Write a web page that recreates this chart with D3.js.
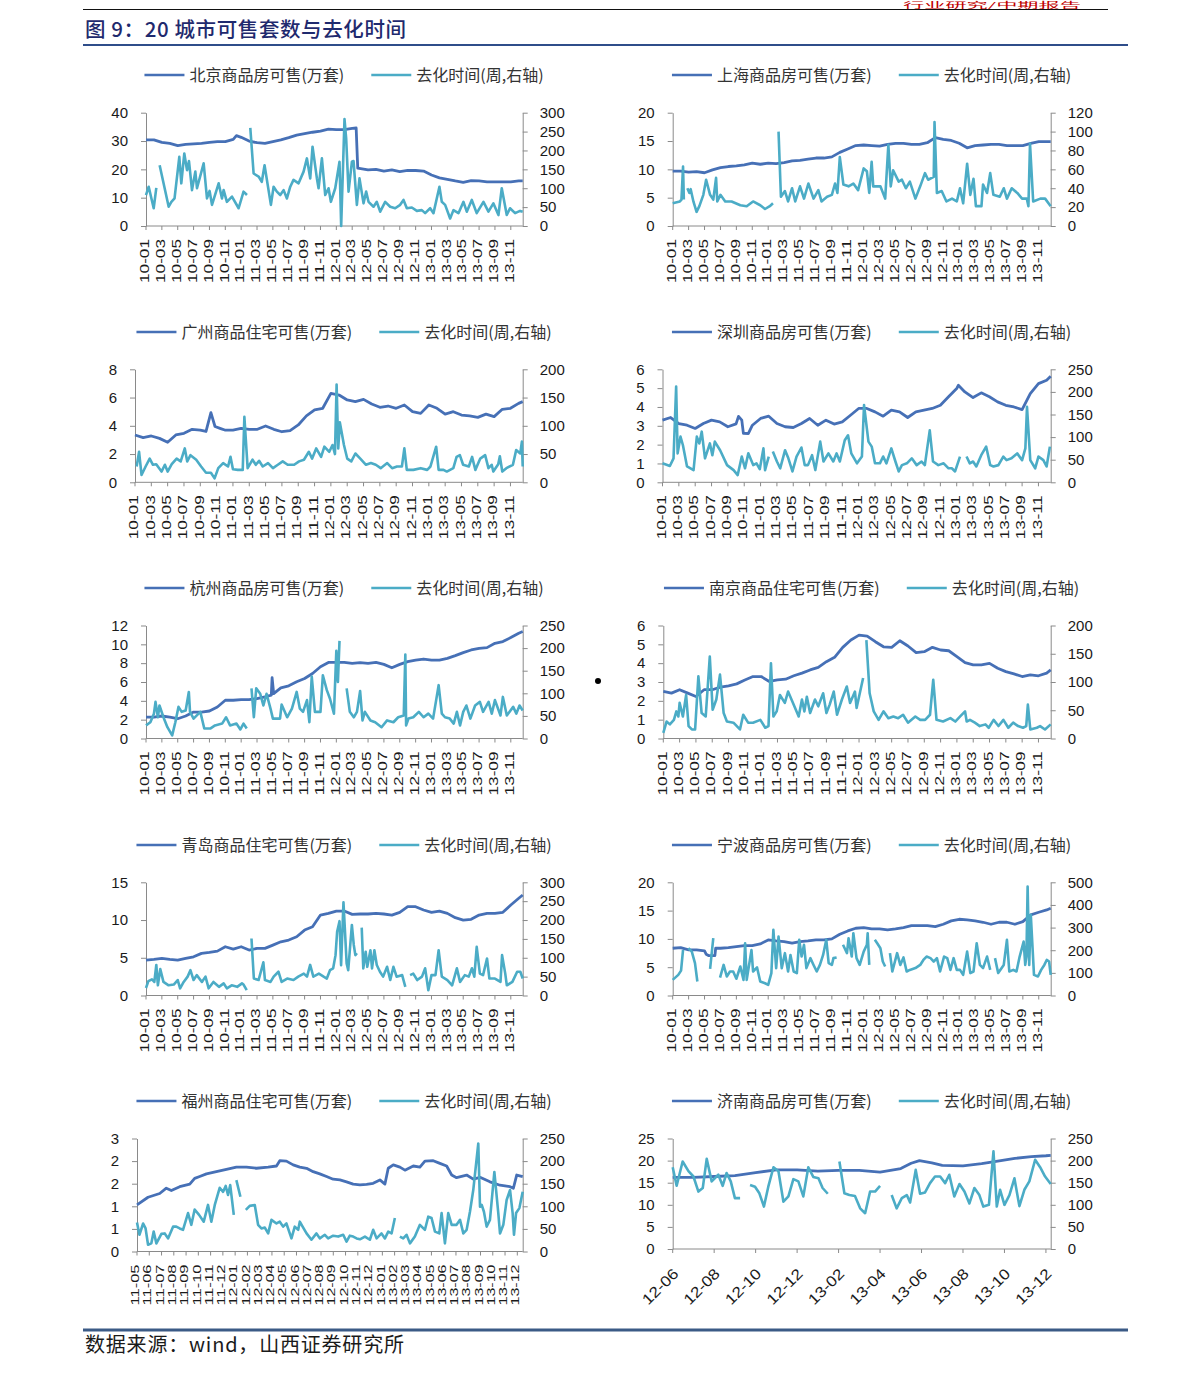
<!DOCTYPE html>
<html><head><meta charset="utf-8">
<script src="https://cdn.jsdelivr.net/npm/d3@7/dist/d3.min.js"></script>
<style>
body{margin:0;background:#fff;}
svg text{font-family:"Liberation Sans","Open Sans",sans-serif;}
.cjk{font-family:"Noto Sans CJK SC","Noto Sans",sans-serif;}
</style></head>
<body>
<script>
// ---------------- DATA ----------------
// x = months since first month of the axis; value pairs; null = gap in series
const xLabelsMain = ["10-01","10-03","10-05","10-07","10-09","10-11","11-01","11-03","11-05","11-07","11-09","11-11","12-01","12-03","12-05","12-07","12-09","12-11","13-01","13-03","13-05","13-07","13-09","13-11"];
const xLabelsFuzhou = ["11-05","11-06","11-07","11-08","11-09","11-10","11-11","11-12","12-01","12-02","12-03","12-04","12-05","12-06","12-07","12-08","12-09","12-10","12-11","12-12","13-01","13-02","13-03","13-04","13-05","13-06","13-07","13-08","13-09","13-10","13-11","13-12"];
const xLabelsJinan = ["12-06","12-08","12-10","12-12","13-02","13-04","13-06","13-08","13-10","13-12"];

const stockNames = ["北京商品房可售(万套)","上海商品房可售(万套)","广州商品住宅可售(万套)","深圳商品房可售(万套)","杭州商品房可售(万套)","南京商品住宅可售(万套)","青岛商品住宅可售(万套)","宁波商品房可售(万套)","福州商品住宅可售(万套)","济南商品房可售(万套)"];
const turnName = "去化时间(周,右轴)";

const bjLeftTicks=[0,10,20,30,40], bjRightTicks=[0,50,100,150,200,250,300];
const shLeftTicks=[0,5,10,15,20], shRightTicks=[0,20,40,60,80,100,120];
const gzLeftTicks=[0,2,4,6,8], gzRightTicks=[0,50,100,150,200];
const szLeftTicks=[0,1,2,3,4,5,6], szRightTicks=[0,50,100,150,200,250];
const hzLeftTicks=[0,2,4,6,8,10,12], hzRightTicks=[0,50,100,150,200,250];
const njLeftTicks=[0,1,2,3,4,5,6], njRightTicks=[0,50,100,150,200];
const qdLeftTicks=[0,5,10,15], qdRightTicks=[0,50,100,150,200,250,300];
const nbLeftTicks=[0,5,10,15,20], nbRightTicks=[0,100,200,300,400,500];
const fzLeftTicks=[0,0.6,1.2,1.8,2.4,3], fzRightTicks=[0,50,100,150,200,250];
const jnLeftTicks=[0,5,10,15,20,25], jnRightTicks=[0,50,100,150,200,250];

const bjStock=[[0,30.4],[1,30.4],[2,29.5],[3,29.2],[4,28.4],[5,28.8],[6,29],[7,29.2],[8,29.5],[9,29.8],[10,29.8],[11,30.6],[11.4,31.9],[12,31.3],[13,30],[14,29.4],[15,29.2],[16,29.8],[17,30.4],[18,31.2],[19,32.1],[20,32.6],[21,33.1],[22,33.5],[23,34.2],[24,34],[25,34],[26,34.5],[26.5,34.6],[26.7,20.4],[28,19.8],[29,20],[30,19.4],[31,19.8],[32,19.2],[33,19.6],[34,19.6],[35,19.4],[36,18],[37,17],[38,16.5],[39,15.9],[40,15.4],[41,16],[42,15.9],[43,15.6],[44,15.6],[45,15.6],[46,15.6],[47,15.9],[47.5,15.9]];
const bjTurn=[[0,82],[0.34,104],[0.97,47],[1.3,101],null,[1.72,161],[2.86,51],[3.2,64],[3.6,73],[4.2,183],[4.45,113],[4.83,192],[5.17,148],[5.42,172],[5.8,95],[6.22,144],[6.43,100],[7.27,166],[7.69,73],[8.02,93],[8.32,56],[9.16,113],[9.58,73],[9.79,95],[10.2,64],[10.84,78],[11.68,47],[12.3,91],[12.73,82],null,[13.15,260],[13.57,139],[14.2,131],[14.6,117],[14.95,161],[15.75,56],[16.09,104],[16.5,91],[16.93,82],[17.35,95],[17.77,73],[18.19,104],[18.6,122],[19.24,113],[19.87,144],[20.29,179],[20.71,126],[21,210],[21.55,126],[21.76,100],[22.18,179],[22.6,82],[23.02,100],[23.31,64],[23.86,100],[24.4,170],[24.61,0],[25.03,283],[25.24,232],[25.54,91],[25.96,170],[26.17,172],[26.59,56],[26.92,126],[27.43,60],[27.76,91],[28.06,64],[28.69,51],[29.1,64],[29.53,38],[30.16,64],[30.79,51],[31.42,47],[32.05,56],[32.47,69],[32.89,47],[33.52,49],[34.15,40],[34.78,42],[35.2,34],[35.83,47],[36.25,34],[37,104],[37.3,64],[37.72,56],[38.35,20],[38.77,42],[39.4,34],[40.03,64],[40.45,38],[41.08,69],[41.7,34],[42.55,64],[43.18,38],[43.8,60],[44.44,29],[44.86,100],[45.49,29],[45.9,47],[46.54,34],[47.17,40],[47.5,38]];

const shStock=[[0,9.7],[1,9.7],[2,9.5],[3,9.6],[4,9.4],[5,9.9],[6,10.3],[7,10.5],[8,10.6],[9,10.8],[10,11.1],[11,10.9],[12,11.1],[13,11],[14,11.2],[15,11.5],[16,11.6],[17,11.8],[18,12],[19,12],[20,12.2],[21,13],[22,13.6],[23,14.2],[24,14.3],[25,14.2],[26,14.1],[27,14.4],[28,14.6],[29,14.6],[30,14.4],[31,14.4],[32,14.7],[33,15.6],[34,15.3],[35,15.1],[36,14.6],[37,13.8],[38,14.2],[39,14.3],[40,14.4],[41,14.4],[42,14.2],[43,14.2],[44,14.2],[45,14.6],[46,14.9],[47,14.9],[47.5,14.9]];
const shTurn=[[0,24],[0.9,26],[1.1,28],[1.3,63],[1.4,28],null,[1.84,40],[2.1,35],[2.26,39],[2.6,26],[3,15],[3.35,21],[3.85,33],[4.2,49],[4.7,33],[5.1,28],[5.45,51],[5.6,26],[6,33],[6.6,26],[7.4,26],[8.5,22],[9.3,21],[10.1,26],[11,22],[11.6,18],[12.2,21],[12.6,24],null,[13.3,100],[13.6,31],[14.1,37],[14.5,26],[15,40],[15.4,26],[16,42],[16.5,29],[17.05,45],[17.7,29],[18.3,38],[18.7,26],[19.4,31],[20,33],[20.4,45],[20.7,35],[21,73],[21.45,44],[22.1,42],[22.7,45],[23.3,38],[24,61],[24.4,58],[24.7,35],[25,68],[25.2,42],[26.1,42],[26.7,29],[27.1,86],[27.4,42],[27.7,59],[28.4,47],[28.8,49],[29.3,40],[29.8,47],[30.5,29],[31.1,42],[31.7,56],[32.1,49],[32.8,52],[32.9,110],[33.2,35],[33.8,37],[34.4,26],[35.1,29],[35.7,26],[36.1,40],[36.5,24],[37,66],[37.4,33],[37.8,50],[38.1,21],[38.8,21],[39,44],[39.5,35],[39.9,56],[40.3,33],[41.1,31],[41.6,40],[42,29],[42.6,40],[43.3,35],[43.9,29],[44.5,29],[44.7,21],[44.9,87],[45.3,26],[46.2,29],[46.8,29],[47.5,21]];

const gzStock=[[0,3.35],[1,3.16],[2,3.28],[3,3.11],[4,2.83],[5,3.35],[6,3.47],[7,3.75],[8,3.7],[8.7,3.6],[9.3,4.93],[9.8,3.95],[10.5,3.8],[11,3.7],[12,3.7],[13,3.82],[14,3.75],[15,3.75],[16,3.99],[17,3.75],[18,3.58],[19,3.66],[20,4.06],[21,4.7],[22,5.12],[23,5.24],[24,6.3],[25,6.18],[26,5.83],[27,5.71],[28,5.87],[29,5.54],[30,5.31],[31,5.4],[32,5.24],[33,5.47],[34,5],[35,4.88],[36,5.47],[37,5.24],[38,4.83],[39,5],[40,4.76],[41,4.7],[42,4.6],[43,4.83],[44,4.65],[45,5.17],[46,5.24],[47,5.59],[47.5,5.71]];
const gzTurn=[[0.2,28],[0.5,54],[0.8,13],[1.3,28],[1.8,42],[2.2,31],[2.6,32],[3.25,19],[3.66,31],[4,19],[4.5,32],[5.1,42],[5.6,37],[6.1,60],[6.4,37],[6.8,48],[7.5,40],[8.1,28],[8.7,17],[9.3,17],[9.75,7],[10.2,25],[10.8,34],[11.4,28],[11.7,45],[12,23],[12.6,22],[13.2,22],[13.4,116],[13.8,25],[14.4,40],[14.8,31],[15.2,38],[15.65,28],[16.3,34],[16.9,25],[17.5,31],[18.1,37],[18.7,31],[19.5,31],[20.1,37],[20.7,40],[21.3,54],[21.7,42],[22.2,60],[22.8,45],[23.2,63],[23.8,54],[24.2,66],[24.5,50],[24.7,173],[24.9,60],[25.1,106],[25.6,66],[26,42],[26.5,37],[27,51],[27.6,42],[28.3,31],[28.9,34],[29.5,31],[30.1,25],[30.9,34],[31.5,25],[32.1,28],[32.7,28],[33,60],[33.3,22],[34.1,22],[35,25],[35.8,22],[36.2,28],[36.9,63],[37.2,22],[37.8,22],[38.2,19],[39,25],[39.4,45],[39.8,48],[40.2,31],[40.9,28],[41.3,45],[41.7,22],[42.3,42],[42.9,48],[43.3,25],[43.7,31],[43.9,19],[44.5,32],[44.7,46],[45,19],[45.5,25],[46.3,31],[46.7,57],[47.2,51],[47.4,72],[47.5,28]];

const szStock=[[0,3.3],[1,3.44],[2,3.12],[3,3.03],[4,2.86],[5,3.12],[6,3.3],[7,3.21],[8,2.95],[9,3.1],[9.3,3.5],[9.7,3.3],[9.9,2.6],[10.5,2.59],[11,3.03],[12,3.39],[13,3.51],[14,3.12],[15,2.95],[16,2.91],[17,3.12],[18,3.39],[19,3.03],[20,3.3],[21,3.09],[22,3.21],[23,3.56],[24,3.92],[25,3.92],[26,3.74],[27,3.51],[28,3.83],[29,3.74],[30,3.44],[31,3.74],[32,3.83],[33,3.92],[34,4.09],[35,4.54],[36,4.98],[36.2,5.15],[37,4.8],[38,4.5],[39,4.75],[40,4.54],[41,4.27],[42,4.09],[43,4],[44,3.86],[45,4.71],[46,5.24],[47,5.42],[47.5,5.63]];
const szTurn=[[0,42],[0.9,36],[1.35,53],[1.67,212],[1.85,64],[2.2,101],[2.5,82],[3,35],[3.8,27],[4.2,101],[4.5,86],[4.8,112],[5.2,53],[5.8,86],[6.1,60],[6.4,90],[7.05,71],[7.9,38],[8.7,27],[9.2,16],[9.7,57],[10.1,31],[10.5,64],[11.1,38],[11.5,42],[11.9,29],[12.35,75],[12.55,27],[13,57],null,[13.5,68],[14,46],[14.4,31],[15,71],[15.4,53],[15.9,24],[16.4,57],[17,77],[17.4,38],[17.8,38],[18.3,60],[18.7,27],[19.3,90],[19.7,46],[20.3,64],[20.9,46],[21.3,64],[21.7,46],[22.3,93],[22.7,104],[23.1,64],[23.8,42],[24.4,57],[24.66,171],[25.2,90],[25.6,79],[26,42],[26.6,42],[27,57],[27.4,42],[28,75],[28.5,46],[28.9,24],[29.3,38],[29.9,42],[30.5,53],[31.1,38],[31.7,46],[32.1,38],[32.7,115],[33.1,46],[33.75,38],[34.4,42],[35,31],[35.4,31],[35.8,24],[36.4,57],null,[37.2,57],[37.6,42],[38,46],[38.4,35],[39,60],[39.6,79],[40.1,38],[40.5,35],[41.1,38],[41.7,57],[42.1,49],[42.7,53],[43.4,64],[44,49],[44.4,75],[44.6,167],[45,49],[45.6,31],[46,57],[46.6,49],[47,35],[47.4,79]];

const hzStock=[[0,2.28],[1,2.28],[2,2.39],[3,2.28],[4,2.1],[5,2.39],[6,2.81],[7,2.81],[8,2.92],[9,3.35],[10,4.06],[11,4.06],[12,4.13],[13,4.13],[14,4.24],[15,4.42],[15.8,4.6],[15.9,6.45],[16.1,4.77],[17,5.38],[18,5.59],[19,6.02],[20,6.37],[21,6.9],[22,7.62],[23,8.08],[24,8.08],[25,8.08],[26,7.98],[27,8.05],[28,7.98],[29,8.08],[30,7.87],[31,7.51],[32,7.87],[33,8.16],[34,8.33],[35,8.44],[36,8.33],[37,8.33],[38,8.51],[39,8.8],[40,9.12],[41,9.4],[42,9.58],[43,9.65],[44,10.11],[45,10.29],[46,10.72],[47,11.18],[47.5,11.36]];
const hzTurn=[[0,29],[0.55,36],[1,55],[1.2,81],[1.5,47],[1.7,73],[2.2,47],[2.7,25],[3.3,7],[3.7,36],[4.1,70],[4.5,59],[5,62],[5.4,103],[5.55,59],[6,44],[6.85,59],[7.35,22],[8.1,22],[8.7,29],[9.6,33],[10.1,47],[10.6,29],[11.4,33],[11.9,20],[12.3,33],[12.7,22],null,[13.3,111],[13.6,47],[13.9,111],[14.4,99],[14.8,73],[15.2,99],[15.7,66],[16,44],[16.9,44],[17.1,75],[17.8,47],[18.4,66],[19,103],[19.4,66],[19.8,59],[20.3,85],[20.6,36],[20.9,137],[21.3,59],[22,59],[22.3,140],[22.8,107],[23.2,88],[23.7,55],[24,194],[24.2,125],[24.4,216],null,[25.3,111],[25.7,59],[26.2,47],[26.6,59],[27,105],[27.3,40],[27.6,59],[28.3,40],[28.9,36],[29.7,25],[30.4,40],[31.2,36],[31.8,47],[32.5,51],[32.7,186],[32.8,29],[33.1,44],[33.7,47],[34.4,59],[35,47],[35.6,55],[36.2,44],[36.9,118],[37.3,55],[37.7,47],[38.3,44],[38.8,33],[39.2,59],[39.6,29],[40,59],[40.4,73],[40.9,44],[41.5,73],[42.1,81],[42.5,59],[43.2,81],[43.6,55],[44,85],[44.7,51],[45,92],[45.5,51],[46.3,70],[46.7,55],[47.1,73],[47.5,62]];

const njStock=[[0,2.5],[1,2.41],[2,2.59],[3,2.41],[4,2.23],[5,2.59],[6,2.59],[7,2.73],[8,2.8],[9,2.9],[10,3.11],[11,3.29],[12,3.29],[13,3.03],[14,3.11],[15,3.15],[16,3.33],[17,3.47],[18,3.64],[19,3.78],[20,4.08],[21,4.31],[22,4.84],[23,5.23],[24,5.49],[25,5.44],[26,5.14],[27,4.87],[28,4.84],[29,5.19],[30,4.91],[31,4.56],[32,4.61],[33,4.84],[34,4.7],[35,4.66],[36,4.35],[37,4.03],[38,3.91],[39,3.91],[40,3.99],[41,3.73],[42,3.55],[43,3.43],[44,3.29],[45,3.38],[46,3.33],[47,3.47],[47.5,3.64]];
const njTurn=[[0,10],[0.4,30],[0.8,25],[1.3,33],[1.6,48],[1.85,39],[2,63],[2.4,39],[2.8,77],[3.1,22],[3.5,16],[3.9,16],[4.3,110],[4.7,45],[5.2,39],[5.7,145],[6.05,51],[6.5,69],[6.95,113],[7.4,45],[7.8,30],[8.6,28],[9.4,16],[9.8,42],[10.4,28],[11,28],[11.9,33],[12.5,19],[12.9,22],[13.2,133],[13.5,39],[13.9,48],[14.3,77],[14.9,63],[15.3,83],[15.9,63],[16.6,39],[17,69],[17.3,48],[17.6,74],[18,45],[18.6,69],[19,57],[19.6,80],[20,45],[20.4,60],[20.9,83],[21.3,42],[21.9,69],[22.5,92],[22.9,63],[23.5,83],[23.7,54],[24.5,107],null,[24.9,174],[25.3,80],[25.8,48],[26.4,33],[27,48],[27.6,36],[28.2,39],[28.8,36],[29.4,42],[30,28],[30.9,39],[31.5,33],[32.1,33],[32.7,42],[33.1,104],[33.5,33],[34.3,30],[35.2,36],[35.8,30],[36.4,39],[37,48],[37.2,30],[37.6,33],[38.2,28],[38.8,22],[39.5,25],[39.9,19],[40.5,33],[41.1,22],[41.7,33],[42.3,19],[42.9,28],[43.5,22],[44.1,19],[44.5,22],[44.7,60],[45,16],[45.8,19],[46.2,22],[46.8,16],[47.5,25]];

const qdStock=[[0,4.69],[1,4.78],[2,4.91],[3,4.78],[4,4.69],[5,4.91],[6,5.13],[7,5.58],[8,5.71],[9,5.88],[10,6.46],[11,6.15],[12,6.46],[13,6.02],[14,6.24],[15,6.24],[16,6.68],[17,7.12],[18,7.35],[19,7.79],[20,8.67],[21,9.12],[22,10.66],[23,10.88],[24,11.19],[25,11.19],[26,10.75],[27,10.8],[28,10.8],[29,10.88],[30,10.8],[31,10.66],[32,11.02],[33,11.77],[34,11.77],[35,11.33],[36,11.02],[37,11.19],[38,10.88],[39,10.31],[40,10],[41,10.09],[42,10.66],[43,10.88],[44,10.88],[45,11.02],[46,11.99],[47,12.88],[47.5,13.32]];
const qdTurn=[[0,20],[0.3,38],[0.75,43],[1.05,36],[1.3,81],[1.5,27],[1.8,70],[2.2,36],[2.85,27],[3.5,29],[4,41],[4.3,19],[4.75,36],[5.25,50],[5.6,67],[6,41],[6.4,54],[7.05,36],[7.5,50],[7.9,19],[8.5,36],[9.2,23],[9.8,32],[10.2,19],[10.8,27],[11.5,23],[12.1,32],[12.3,29],[12.7,14],null,[13.3,151],[13.6,45],[14.2,41],[14.8,88],[15,41],[15.7,36],[16.1,50],[16.7,63],[17.1,36],[17.8,45],[18.6,41],[19.2,50],[19.9,58],[20.3,50],[20.7,81],[21.1,50],[21.8,58],[22.4,50],[22.8,45],[23.2,67],[23.6,72],[23.9,107],[24.1,169],[24.4,197],[24.6,80],[24.9,247],[25.3,85],[25.5,67],[25.96,187],[26.2,134],[26.4,107],[26.6,112],null,[27.2,180],[27.4,72],[27.7,116],[27.9,76],[28.3,120],[28.5,72],[28.8,120],[29.1,81],[29.5,63],[29.9,50],[30.4,76],[30.8,41],[31.2,76],[31.6,50],[32.3,54],[32.7,23],null,[33.3,54],[33.7,58],[34.2,41],[34.8,50],[35.2,72],[35.6,14],[36,54],[36.5,54],[36.9,120],[37.3,50],[38,41],[38.6,27],[39.2,72],[39.6,36],[40.2,54],[40.7,50],[41.1,72],[41.4,50],[41.7,129],[42.1,58],[42.5,54],[43,98],[43.3,45],[44,45],[44.7,36],[44.9,107],[45.3,58],[45.5,27],[46.2,36],[46.8,63],[47.2,63],[47.5,45]];

const nbStock=[[0,8.35],[1,8.47],[2,8.06],[3,8.06],[4,7.88],[4.2,7.3],[4.5,7.06],[5.3,7.06],[5.4,8.35],[6,8.35],[7,8.47],[8,8.65],[9,8.82],[10,8.82],[11,9.12],[12,9.82],[13,9.65],[14,9.53],[15,9.24],[16,9.53],[17,9.65],[18,9.82],[19,9.82],[20,10],[21,10.82],[22,11.41],[23,11.88],[24,12],[25,11.76],[26,11.76],[27,11.59],[28,11.76],[29,12],[30,12.35],[31,12.35],[32,12.35],[33,12.18],[34,12.59],[35,13.18],[36,13.47],[37,13.35],[38,13.18],[39,12.94],[40,12.59],[41,12.94],[42,12.94],[43,12.59],[44,13.06],[45,14.24],[46,14.71],[47,15.12],[47.5,15.41]];
const nbTurn=[[0,69],[0.7,91],[1.05,110],[1.3,201],null,[1.97,209],[2.4,194],[2.8,143],[3.1,62],null,[4.7,118],[5.1,253],null,[5.95,79],[6.4,135],[6.8,84],[7.2,106],[7.6,106],[8,74],[8.5,128],[8.9,69],[9.1,231],[9.3,69],[9.9,201],[10.1,106],[10.6,124],[11,62],[11.6,54],[12,47],[12.4,99],[12.65,290],[13,121],[13.3,260],[13.7,121],[14.1,187],[14.5,106],[14.8,179],[15.2,106],[15.6,99],[15.9,246],[16.2,172],[16.5,224],[16.8,121],[17.3,165],[17.7,135],[18.1,106],[18.5,135],[18.9,179],[19.3,246],[19.6,143],[20,135],[20.2,165],[20.6,168],null,[21.4,224],[21.9,187],[22.1,253],[22.5,172],[22.7,275],[23.1,165],[23.5,135],[24,194],[24.4,224],[24.5,275],[24.7,135],null,[25.4,246],[25.7,231],[26.1,209],[26.4,150],[26.7,128],null,[27.3,187],[27.6,106],[28.2,187],[28.6,135],[29,168],[29.4,106],[29.8,113],[30.5,121],[31.1,135],[31.5,157],[31.9,172],[32.4,165],[32.8,150],[33.2,165],[33.6,106],[34.1,172],[34.5,165],[34.9,113],[35.3,165],[35.7,113],[36.1,113],[36.5,91],[37,194],[37.4,99],[37.8,106],[38.2,231],[38.6,135],[39,121],[39.5,172],[39.9,113],null,[40.5,165],[40.9,99],[41.6,135],[42,246],[42.3,106],[42.8,113],[43.2,106],[43.6,172],[44.1,238],[44.3,135],[44.45,172],[44.6,481],[44.8,135],[45,356],[45.4,91],[45.9,84],[46.3,113],[46.7,135],[47,157],[47.3,150],[47.5,91]];

const fzStock=[[0,1.24],[0.9,1.44],[1.85,1.54],[2.39,1.68],[2.8,1.62],[3.48,1.72],[4.3,1.79],[4.7,1.94],[5.11,1.99],[5.66,2.06],[6.47,2.12],[7.29,2.18],[8.1,2.24],[8.92,2.24],[9.73,2.21],[10.69,2.24],[11.37,2.27],[11.64,2.41],[12.18,2.4],[12.73,2.3],[13.27,2.24],[13.82,2.21],[14.36,2.12],[14.9,2.06],[15.45,1.99],[15.99,1.92],[16.54,1.9],[17.08,1.85],[17.62,1.79],[18.17,1.77],[18.71,1.78],[19.25,1.81],[19.8,1.9],[20.21,1.79],[20.48,2.21],[20.89,2.3],[21.43,2.24],[21.84,2.16],[22.52,2.27],[23.06,2.24],[23.47,2.4],[24.15,2.41],[24.69,2.34],[25.24,2.27],[25.65,2.03],[26.05,1.96],[26.87,2.03],[27.41,1.92],[27.96,1.97],[28.77,1.85],[29.59,1.76],[30.41,1.72],[30.68,1.68],[30.95,2.03],[31.44,1.99]];
const fzTurn=[[0,64],[0.2,37],[0.5,62],[0.7,51],[0.9,15],[1.17,18],[1.36,44],[1.58,18],[1.99,39],[2.26,40],[2.53,29],[2.94,55],[3.2,55],[3.48,51],[3.75,48],[4.16,85],[4.43,59],[4.7,93],[5.06,81],[5.44,66],[5.79,103],[6.06,66],[6.34,103],[6.74,141],[7.02,132],[7.23,145],[7.42,125],[7.6,147],[7.89,81],null,[8.1,158],[8.43,121],null,[8.87,92],[9.19,101],[9.6,103],[9.87,59],[10.14,51],[10.42,53],[10.69,40],[10.96,70],[11.37,62],[11.64,66],[11.91,55],[12.18,62],[12.59,29],[12.86,55],[13.14,48],[13.27,66],[13.5,55],[13.82,40],[14.22,26],[14.63,40],[14.9,29],[15.31,37],[15.58,29],[15.99,35],[16.4,33],[16.81,37],[17.08,22],[17.35,35],[17.62,33],[17.9,29],[18.17,27],[18.58,33],[18.98,26],[19.25,48],[19.53,29],[19.93,40],[20.21,29],[20.48,44],[20.75,40],[21.02,74],null,[21.43,33],[21.7,29],[21.97,37],[22.25,18],[22.65,33],[23.06,59],[23.47,48],[23.74,77],[24.01,74],[24.29,44],[24.64,40],[24.83,85],[25.1,18],[25.37,85],[25.65,59],[26.05,59],[26.33,70],[26.6,40],[26.87,48],[27.14,88],[27.41,136],[27.82,239],[27.96,99],[28.1,103],[28.28,88],[28.5,55],[28.77,70],[29.13,176],[29.45,85],[29.59,40],[29.86,59],[30.13,114],[30.41,136],[30.62,85],[30.73,37],[30.9,85],[31.17,96],[31.44,132]];

const jnStock=[[0,16.2],[1,16.2],[2,16.4],[3,16.6],[4,17.3],[5,17.9],[6,17.9],[7,17.6],[8,17.8],[9,17.8],[10,17.4],[11,18.2],[11.5,19.4],[11.9,20],[12.5,19.5],[13,18.9],[14,18.8],[14.9,19.3],[15.6,19.8],[16.5,20.5],[17.3,20.9],[18,21.1],[18.23,21.2]];
const jnTurn=[[0,185],[0.19,143],[0.48,198],[0.76,176],[1,164],[1.24,130],[1.45,138],[1.64,204],[1.88,153],[2.2,168],[2.41,143],[2.6,172],[2.8,153],[3,115],[3.25,115],null,[3.73,145],[3.97,141],[4.18,126],[4.4,96],[4.61,141],[4.86,185],[5.1,176],[5.34,107],[5.58,119],[5.82,158],[6.06,153],[6.3,119],[6.54,185],[6.78,163],[7.03,160],[7.23,138],[7.48,125],null,[8.04,198],[8.28,126],[8.52,122],[8.79,120],[9.04,92],[9.28,81],[9.52,130],[9.76,130],[10,143],null,[10.56,122],[10.8,92],[11.05,115],[11.29,122],[11.45,105],[11.72,179],[11.93,125],[12.17,128],[12.41,149],[12.65,164],[12.9,164],[13.14,149],[13.34,168],[13.58,119],[13.83,147],[14.07,130],[14.31,103],[14.55,138],[14.79,122],[14.98,96],[15.25,100],[15.47,221],[15.63,96],[15.79,134],[16,100],[16.24,122],[16.48,160],[16.72,97],[16.96,134],[17.2,153],[17.48,202],[17.72,185],[17.96,164],[18.23,147]];

// ---------------- LAYOUT ----------------
const W = 1191, H = 1375;
const stockColor = "#4670b6", turnColor = "#4bacc6", axisColor = "#8a8a8a";
const cols = [{R:522.7, legendC:344}, {R:1050.7, legendC:871.5}];
const rows = [{top:112.7,bottom:226,leg:75},{top:369.3,bottom:482.3,leg:332},{top:625.5,bottom:738.5,leg:588},{top:882.3,bottom:995.5,leg:845},{top:1138.5,bottom:1251.5,leg:1101}];

const panels = [
  {name:stockNames[0], stock:bjStock, turn:bjTurn, lt:bjLeftTicks, rt:bjRightTicks, labels:xLabelsMain, start:[10,1], end:47.5, col:0,row:0, L:146},
  {name:stockNames[1], stock:shStock, turn:shTurn, lt:shLeftTicks, rt:shRightTicks, labels:xLabelsMain, start:[10,1], end:47.5, col:1,row:0, L:672.7},
  {name:stockNames[2], stock:gzStock, turn:gzTurn, lt:gzLeftTicks, rt:gzRightTicks, labels:xLabelsMain, start:[10,1], end:47.5, col:0,row:1, L:135},
  {name:stockNames[3], stock:szStock, turn:szTurn, lt:szLeftTicks, rt:szRightTicks, labels:xLabelsMain, start:[10,1], end:47.5, col:1,row:1, L:662.5},
  {name:stockNames[4], stock:hzStock, turn:hzTurn, lt:hzLeftTicks, rt:hzRightTicks, labels:xLabelsMain, start:[10,1], end:47.5, col:0,row:2, L:146},
  {name:stockNames[5], stock:njStock, turn:njTurn, lt:njLeftTicks, rt:njRightTicks, labels:xLabelsMain, start:[10,1], end:47.5, col:1,row:2, L:663.3},
  {name:stockNames[6], stock:qdStock, turn:qdTurn, lt:qdLeftTicks, rt:qdRightTicks, labels:xLabelsMain, start:[10,1], end:47.5, col:0,row:3, L:146},
  {name:stockNames[7], stock:nbStock, turn:nbTurn, lt:nbLeftTicks, rt:nbRightTicks, labels:xLabelsMain, start:[10,1], end:47.5, col:1,row:3, L:672.7},
  {name:stockNames[8], stock:fzStock, turn:fzTurn, lt:fzLeftTicks, rt:fzRightTicks, labels:xLabelsFuzhou, start:[11,5], end:31.44, col:0,row:4, L:137, fmt:".0f", xfs:10.5, xlen:41},
  {name:stockNames[9], stock:jnStock, turn:jnTurn, lt:jnLeftTicks, rt:jnRightTicks, labels:xLabelsJinan, start:[12,6], end:18.23, col:1,row:4, L:672.7, rot45:true, bottom:1249, xfs:15, xlen:44}
];

const svg = d3.select("body").append("svg").attr("width", W).attr("height", H);
svg.append("rect").attr("width", W).attr("height", H).attr("fill", "#fff");

// header
svg.append("text").attr("class","cjk").attr("x", 903).attr("y", 8.3).attr("font-size", 7.5)
  .attr("textLength", 178).attr("lengthAdjust", "spacingAndGlyphs").attr("fill", "#c00000").text("行业研究/中期报告");
svg.append("line").attr("x1", 83).attr("x2", 1108).attr("y1", 9.5).attr("y2", 9.5).attr("stroke", "#111").attr("stroke-width", 1);
svg.append("text").attr("class","cjk").attr("x", 85).attr("y", 37).attr("font-size", 20.5).attr("font-weight", 500)
  .attr("letter-spacing", 0.6).attr("fill", "#1f2a6e").text("图 9：20 城市可售套数与去化时间");
svg.append("line").attr("x1", 83).attr("x2", 1128).attr("y1", 45).attr("y2", 45).attr("stroke", "#2f4d8a").attr("stroke-width", 2);

// footer
svg.append("line").attr("x1", 83).attr("x2", 1128).attr("y1", 1330).attr("y2", 1330).attr("stroke", "#3b5a86").attr("stroke-width", 3);
svg.append("text").attr("class","cjk").attr("x", 85).attr("y", 1352).attr("font-size", 20).attr("letter-spacing", 0.8)
  .attr("fill", "#1a1a1a").text("数据来源：wind，山西证券研究所");
svg.append("circle").attr("cx", 598).attr("cy", 681).attr("r", 3).attr("fill", "#000");

function monthIndex(label, start) {
  const [yy, mm] = label.split("-").map(Number);
  return (yy - start[0]) * 12 + (mm - start[1]);
}

panels.forEach(p => {
  const c = cols[p.col], r = rows[p.row];
  const top = r.top, bottom = p.bottom || r.bottom, L = p.L, R = c.R;
  const g = svg.append("g");
  const x = d3.scaleLinear().domain([0, p.end]).range([L, R]);
  const yL = d3.scaleLinear().domain([0, d3.max(p.lt)]).range([bottom, top]);
  const yR = d3.scaleLinear().domain([0, d3.max(p.rt)]).range([bottom, top]);

  const axL = g.append("g").attr("transform", `translate(${L},0)`)
    .call(d3.axisLeft(yL).tickValues(p.lt).tickSize(5).tickSizeOuter(0).tickPadding(13)
      .tickFormat(p.fmt ? d3.format(p.fmt) : d3.format("d")));
  const axR = g.append("g").attr("transform", `translate(${R},0)`)
    .call(d3.axisRight(yR).tickValues(p.rt).tickSize(5).tickSizeOuter(0).tickPadding(12).tickFormat(d3.format("d")));
  [axL, axR].forEach(a => {
    a.select(".domain").attr("stroke", axisColor);
    a.selectAll(".tick line").attr("stroke", axisColor);
    a.selectAll(".tick text").attr("font-size", 15).attr("fill", "#1a1a1a")
      .attr("font-family", "'Liberation Sans','Open Sans',sans-serif");
  });

  // x axis
  g.append("line").attr("x1", L).attr("x2", R).attr("y1", bottom).attr("y2", bottom).attr("stroke", axisColor);
  p.labels.forEach(lb => {
    const xm = x(monthIndex(lb, p.start));
    g.append("line").attr("x1", xm).attr("x2", xm).attr("y1", bottom).attr("y2", bottom + 4).attr("stroke", axisColor);
    const t = g.append("text").attr("font-size", p.xfs || 13.5).attr("fill", "#1a1a1a").attr("text-anchor", "end")
      .attr("dy", "0.35em").attr("textLength", p.xlen || 44).attr("lengthAdjust", "spacingAndGlyphs").text(lb);
    if (p.rot45) t.attr("transform", `translate(${xm + 3},${bottom + 22}) rotate(-45)`);
    else t.attr("transform", `translate(${xm - 1.5},${bottom + 13}) rotate(-90)`);
  });

  const lineL = d3.line().defined(d => d !== null).x(d => x(d[0])).y(d => yL(d[1]));
  const lineR = d3.line().defined(d => d !== null).x(d => x(d[0])).y(d => yR(d[1]));
  g.append("path").datum(p.stock).attr("d", lineL).attr("fill", "none").attr("stroke", stockColor).attr("stroke-width", 2.8).attr("stroke-linejoin", "round");
  g.append("path").datum(p.turn).attr("d", lineR).attr("fill", "none").attr("stroke", turnColor).attr("stroke-width", 2.6).attr("stroke-linejoin", "round");

  // legend (centered)
  const lg = g.append("g");
  const ly = r.leg;
  const l1 = lg.append("line").attr("y1", ly).attr("y2", ly).attr("stroke", stockColor).attr("stroke-width", 2.5);
  const t1 = lg.append("text").attr("class","cjk").attr("y", ly).attr("dy", "0.35em").attr("font-size", 16).attr("fill", "#333").text(p.name);
  const l2 = lg.append("line").attr("y1", ly).attr("y2", ly).attr("stroke", turnColor).attr("stroke-width", 2.5);
  const t2 = lg.append("text").attr("class","cjk").attr("y", ly).attr("dy", "0.35em").attr("font-size", 16).attr("fill", "#333").text(turnName);
  const w1 = t1.node().getComputedTextLength(), w2 = t2.node().getComputedTextLength();
  const total = 40 + 5 + w1 + 27 + 40 + 5 + w2;
  let x0 = c.legendC - total / 2;
  l1.attr("x1", x0).attr("x2", x0 + 40); x0 += 45;
  t1.attr("x", x0); x0 += w1 + 27;
  l2.attr("x1", x0).attr("x2", x0 + 40); x0 += 45;
  t2.attr("x", x0);
});
</script>
</body></html>
